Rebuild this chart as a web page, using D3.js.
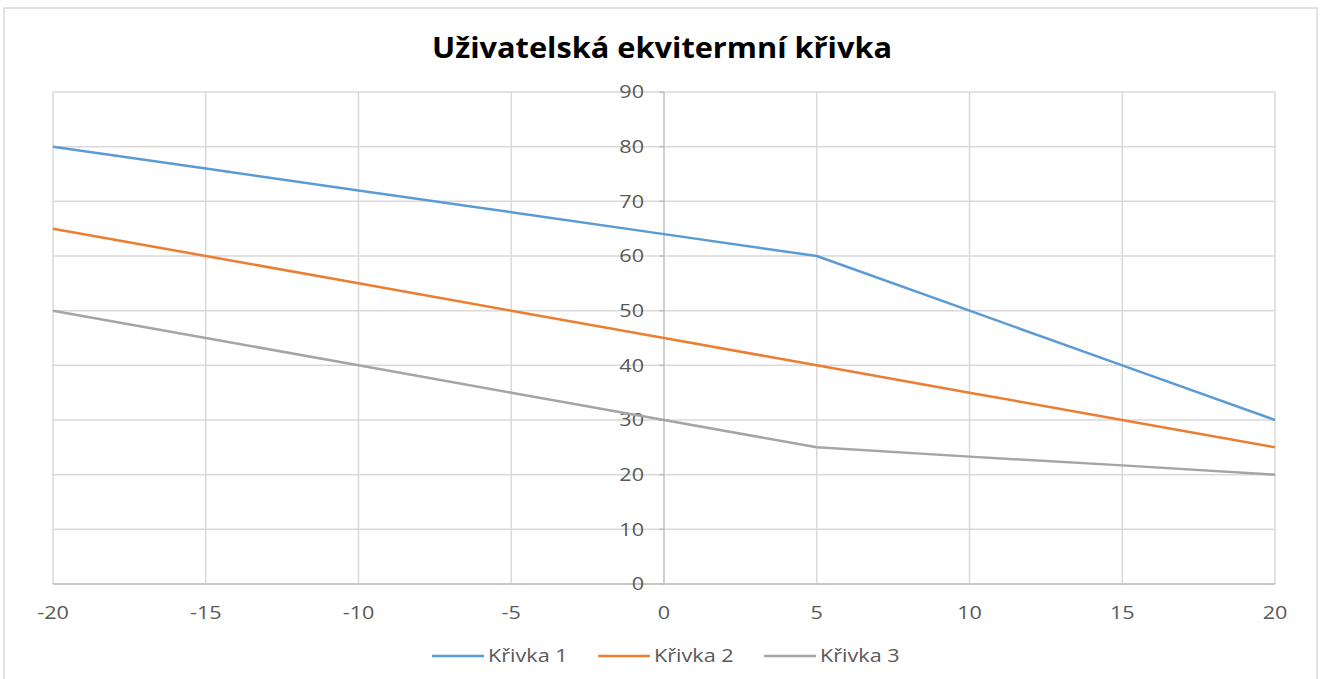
<!DOCTYPE html>
<html>
<head>
<meta charset="utf-8">
<script src="https://cdn.jsdelivr.net/npm/d3@7"></script>
<style>
  body { margin: 0; background: #fff; }
  svg { display: block; }
</style>
</head>
<body>
<div id="chart"></div>
<script>
// data
const xValues = [-20, -15, -10, -5, 0, 5, 10, 15, 20];
const krivka1 = [80, 76, 72, 68, 64, 60, 50, 40, 30];
const krivka2 = [65, 60, 55, 50, 45, 40, 35, 30, 25];
const krivka3 = [50, 45, 40, 35, 30, 25, 23.3, 21.7, 20];
const seriesNames = ["Křivka 1", "Křivka 2", "Křivka 3"];
const xTicks = [-20, -15, -10, -5, 0, 5, 10, 15, 20];
const yTicks = [0, 10, 20, 30, 40, 50, 60, 70, 80, 90];
const title = "Uživatelská ekvitermní křivka";

const colors = ["#5b9bd5", "#ed7d31", "#a5a5a5"];
const width = 1321, height = 679;
const margin = { top: 92, bottom: 95, left: 53, right: 46 };
const font = "'Open Sans', sans-serif";
const stretch = 1.2; // the reference text is a bit wide

const svg = d3.select("#chart").append("svg")
  .attr("width", width).attr("height", height);

// chart frame
svg.append("rect")
  .attr("x", 4).attr("y", 8)
  .attr("width", width - 8).attr("height", height)
  .attr("fill", "#fff").attr("stroke", "#d9d9d9").attr("stroke-width", 1.5);

const x = d3.scaleLinear().domain([-20, 20]).range([margin.left, width - margin.right]);
const y = d3.scaleLinear().domain([0, 90]).range([height - margin.bottom, margin.top]);

// gridlines
svg.append("g").selectAll("line.h").data(yTicks).enter().append("line")
  .attr("x1", x(-20)).attr("x2", x(20))
  .attr("y1", d => y(d)).attr("y2", d => y(d))
  .attr("stroke", "#d9d9d9").attr("stroke-width", 1.5);
svg.append("g").selectAll("line.v").data(xTicks.filter(d => d !== 0)).enter().append("line")
  .attr("x1", d => x(d)).attr("x2", d => x(d))
  .attr("y1", y(0)).attr("y2", y(90))
  .attr("stroke", "#d9d9d9").attr("stroke-width", 1.5);

// axes lines
svg.append("line")
  .attr("x1", x(0)).attr("x2", x(0)).attr("y1", y(0)).attr("y2", y(90))
  .attr("stroke", "#bfbfbf").attr("stroke-width", 1.5);
svg.append("line")
  .attr("x1", x(-20)).attr("x2", x(20)).attr("y1", y(0)).attr("y2", y(0))
  .attr("stroke", "#bfbfbf").attr("stroke-width", 1.5);

// y tick marks + labels
svg.append("g").selectAll("line").data(yTicks).enter().append("line")
  .attr("x1", x(0) - 5).attr("x2", x(0))
  .attr("y1", d => y(d)).attr("y2", d => y(d))
  .attr("stroke", "#bfbfbf").attr("stroke-width", 1.5);
svg.append("g").selectAll("text").data(yTicks).enter().append("text")
  .attr("transform", d => `translate(${x(0) - 20},${y(d)}) scale(${stretch},1)`)
  .attr("dy", "0.35em")
  .attr("text-anchor", "end")
  .attr("font-family", font).attr("font-size", 18).attr("fill", "#595959")
  .text(d => d);

// x labels
svg.append("g").selectAll("text").data(xTicks).enter().append("text")
  .attr("transform", d => `translate(${x(d)},${y(0) + 35}) scale(${stretch},1)`)
  .attr("text-anchor", "middle")
  .attr("font-family", font).attr("font-size", 18).attr("fill", "#595959")
  .text(d => d);

// lines
const allSeries = [krivka1, krivka2, krivka3];
const line = d3.line().x((d, i) => x(xValues[i])).y(d => y(d));
svg.append("g").selectAll("path").data(allSeries).enter().append("path")
  .attr("d", d => line(d))
  .attr("fill", "none")
  .attr("stroke", (d, i) => colors[i])
  .attr("stroke-width", 2.5)
  .attr("stroke-linejoin", "round");

// title
svg.append("text")
  .attr("x", 662).attr("y", 58)
  .attr("text-anchor", "middle")
  .attr("font-family", font).attr("font-weight", "bold")
  .attr("font-size", 28).attr("fill", "#000")
  .attr("textLength", 460).attr("lengthAdjust", "spacingAndGlyphs")
  .text(title);

// legend
const legendX = [432, 598, 764];
const lg = svg.append("g").selectAll("g").data(seriesNames).enter().append("g")
  .attr("transform", (d, i) => `translate(${legendX[i]},656)`);
lg.append("line")
  .attr("x1", 0).attr("x2", 52).attr("y1", 0).attr("y2", 0)
  .attr("stroke", (d, i) => colors[i]).attr("stroke-width", 2.5);
lg.append("text")
  .attr("transform", `translate(56,0) scale(${stretch},1)`)
  .attr("dy", "0.35em")
  .attr("font-family", font).attr("font-size", 18).attr("fill", "#595959")
  .text(d => d);
</script>
</body>
</html>
